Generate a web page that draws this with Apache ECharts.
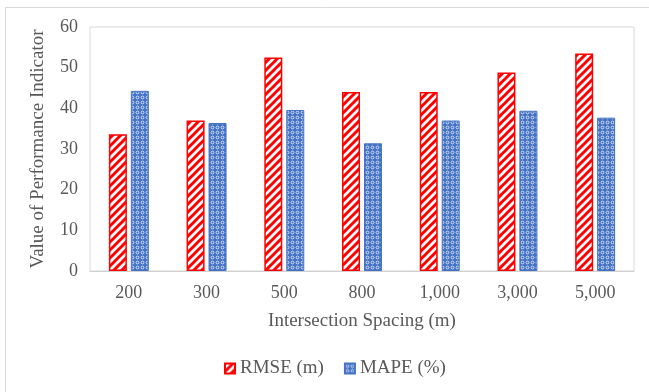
<!DOCTYPE html>
<html>
<head>
<meta charset="utf-8">
<script src="https://cdn.jsdelivr.net/npm/echarts@6/dist/echarts.min.js"></script>
<style>
html,body{margin:0;padding:0;background:#fff;}
#chart{width:649px;height:392px;}
</style>
</head>
<body>
<div id="chart"></div>
<script>
const categories = ['200', '300', '500', '800', '1,000', '3,000', '5,000'];
const rmseValues = [33.6, 37.0, 52.5, 44.0, 44.0, 48.8, 53.5];
const mapeValues = [44.3, 36.4, 39.6, 31.4, 37.0, 39.4, 37.7];
const seriesNames = ['RMSE (m)', 'MAPE (%)'];
const yTicks = { min: 0, max: 60, interval: 10 };

function stripePattern() {
  const c = document.createElement('canvas');
  c.width = 8; c.height = 8;
  const ctx = c.getContext('2d');
  ctx.fillStyle = '#ffffff';
  ctx.fillRect(0, 0, 8, 8);
  ctx.strokeStyle = '#ff0000';
  ctx.lineWidth = 3;
  ctx.beginPath();
  ctx.moveTo(-2, 10); ctx.lineTo(10, -2);
  ctx.moveTo(-6, 6); ctx.lineTo(6, -6);
  ctx.moveTo(2, 14); ctx.lineTo(14, 2);
  ctx.stroke();
  return c;
}
function dotPattern() {
  const c = document.createElement('canvas');
  c.width = 5; c.height = 5;
  const ctx = c.getContext('2d');
  ctx.fillStyle = '#4472c4';
  ctx.fillRect(0, 0, 5, 5);
  ctx.strokeStyle = 'rgba(255,255,255,0.8)';
  ctx.lineWidth = 0.9;
  ctx.beginPath();
  ctx.arc(2.5, 2.5, 1.4, 0, Math.PI * 2);
  ctx.stroke();
  return c;
}

const chart = echarts.init(document.getElementById('chart'), null, { renderer: 'canvas' });
const font = 'Liberation Serif';
const textColor = '#595959';

chart.setOption({
  backgroundColor: '#ffffff',
  animation: false,
  grid: { left: 90, right: 15, top: 27, bottom: 121, show: true, borderColor: '#d9d9d9', borderWidth: 1 },
  legend: {
    data: seriesNames,
    left: 224, top: 359, padding: 0,
    itemWidth: 10, itemHeight: 10, itemGap: 20,
    icon: 'rect',
    textStyle: { fontFamily: font, fontSize: 19, color: textColor }
  },
  xAxis: {
    type: 'category',
    data: categories,
    name: 'Intersection Spacing (m)',
    nameLocation: 'middle',
    nameGap: 41,
    nameTextStyle: { fontFamily: font, fontSize: 19, color: textColor },
    axisLine: { show: true, lineStyle: { color: '#d0d0d0', width: 1 } },
    axisTick: { show: false },
    axisLabel: { fontFamily: font, fontSize: 18, color: textColor, margin: 13 }
  },
  yAxis: {
    type: 'value',
    min: yTicks.min, max: yTicks.max, interval: yTicks.interval,
    name: 'Value of Performance Indicator',
    nameLocation: 'middle',
    nameGap: 42,
    nameTextStyle: { fontFamily: font, fontSize: 19, color: textColor },
    axisLine: { show: false },
    axisTick: { show: false },
    splitLine: { show: false },
    axisLabel: { fontFamily: font, fontSize: 18, color: textColor, margin: 12 }
  },
  graphic: [
    { type: 'rect', shape: { x: 5.5, y: 7.5, width: 700, height: 400 }, style: { fill: 'none', stroke: '#d9d9d9', lineWidth: 1 }, z: -10 }
  ],
  series: [
    {
      name: seriesNames[0], type: 'bar', data: rmseValues,
      barWidth: 18, barGap: '22%',
      itemStyle: { color: { image: stripePattern(), repeat: 'repeat' }, borderColor: '#ff0000', borderWidth: 1.5 }
    },
    {
      name: seriesNames[1], type: 'bar', data: mapeValues,
      barWidth: 18,
      itemStyle: { color: { image: dotPattern(), repeat: 'repeat' }, borderColor: '#4472c4', borderWidth: 1 }
    }
  ]
});
</script>
</body>
</html>
